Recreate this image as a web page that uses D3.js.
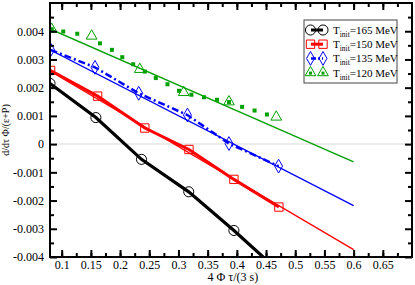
<!DOCTYPE html>
<html>
<head>
<meta charset="utf-8">
<script src="https://cdn.jsdelivr.net/npm/d3@7"></script>
<style>
    body { margin: 0; background: #fff; }
    text { font-family: "Liberation Serif", "DejaVu Serif", serif; }
</style>
</head>
<body>
<div id="chart"></div>
<script>
// tick values
var xTicks = [0.1, 0.15, 0.2, 0.25, 0.3, 0.35, 0.4, 0.45, 0.5, 0.55, 0.6, 0.65];
var yTicks = [-0.004, -0.003, -0.002, -0.001, 0, 0.001, 0.002, 0.003, 0.004];

// legend labels
var seriesTemps = ["165", "150", "135", "120"];

// T_init = 165 MeV (thick line, circles)
var blackX = [0.080, 0.1586, 0.2367, 0.3176, 0.395, 0.445];
var blackY = [0.00215, 0.00094, -0.00054, -0.00169, -0.00306, -0.0040];
var blackMarkX = [0.080, 0.1586, 0.2367, 0.3176, 0.395];
var blackMarkY = [0.00215, 0.00094, -0.00054, -0.00169, -0.00306];

// T_init = 150 MeV (thick line, squares)
var redX = [0.081, 0.1615, 0.2424, 0.318, 0.395, 0.472];
var redY = [0.00261, 0.0017, 0.00057, -0.00019, -0.00125, -0.00223];

// T_init = 135 MeV (dash-dot line, diamonds)
var blueX = [0.081, 0.157, 0.232, 0.3154, 0.3865, 0.4715];
var blueY = [0.00334, 0.00272, 0.0018, 0.00103, 0.00002, -0.00078];

// T_init = 120 MeV (dots, triangles)
var greenDotX = [0.0829, 0.1027, 0.1267, 0.1655, 0.186, 0.2038, 0.2224, 0.2424, 0.2612, 0.2812,
    0.301, 0.3222, 0.3438, 0.366, 0.3865, 0.409, 0.4304, 0.4515];
var greenDotY = [0.00407, 0.00399, 0.00391, 0.00357, 0.00334, 0.00308, 0.00283, 0.00257, 0.00234, 0.00212,
    0.00189, 0.00175, 0.00166, 0.00157, 0.00149, 0.00132, 0.00119, 0.00105];
var greenTriX = [0.0829, 0.1513, 0.2338, 0.309, 0.3865, 0.4675];
var greenTriY = [0.00407, 0.00383, 0.00265, 0.00183, 0.0015, 0.00096];

// straight fits
var fitX = [0.08, 0.6];
var redFitY = [0.00259, -0.00374];
var blueFitY = [0.00334, -0.00218];
var greenFitY = [0.00408, -0.00063];

(function (d3) {
    "use strict";

    var vMargin = { mTop: 3, mRight: 3, mBottom: 28, mLeft: 50 },
        vWidth = 415 - vMargin.mLeft - vMargin.mRight,
        vHeight = 285 - vMargin.mTop - vMargin.mBottom;

    var cGreen = "#00a000";

    var svg = d3.select("#chart")
        .append("svg")
        .attr("width", 415)
        .attr("height", 285)
        .append("g")
        .attr("transform", "translate(" + vMargin.mLeft + "," + vMargin.mTop + ")");

    var vX = d3.scaleLinear().domain([0.08, 0.7]).range([0, vWidth]);
    var vY = d3.scaleLinear().domain([-0.004, 0.005]).range([vHeight, 0]);

    svg.append("clipPath").attr("id", "clip")
        .append("rect").attr("width", vWidth).attr("height", vHeight);

    // zero line
    svg.append("line")
        .attr("x1", 0).attr("x2", vWidth)
        .attr("y1", vY(0)).attr("y2", vY(0))
        .attr("stroke", "#e4e4e4").attr("stroke-width", 1.5);

    function zip(aX, aY) {
        return aX.map(function (v, i) { return [v, aY[i]]; });
    }

    var vLine = d3.line()
        .x(function (d) { return vX(d[0]); })
        .y(function (d) { return vY(d[1]); });

    var plot = svg.append("g").attr("clip-path", "url(#clip)");

    // fit lines
    [[redFitY, "#ff0000"], [blueFitY, "#0000ff"], [greenFitY, cGreen]].forEach(function (f) {
        plot.append("path")
            .attr("d", vLine(zip(fitX, f[0])))
            .attr("fill", "none").attr("stroke", f[1]).attr("stroke-width", 1.3);
    });

    // data lines
    plot.append("path").attr("d", vLine(zip(blackX, blackY)))
        .attr("fill", "none").attr("stroke", "#000").attr("stroke-width", 3.2);
    plot.append("path").attr("d", vLine(zip(redX, redY)))
        .attr("fill", "none").attr("stroke", "#ff0000").attr("stroke-width", 3);
    plot.append("path").attr("d", vLine(zip(blueX, blueY)))
        .attr("fill", "none").attr("stroke", "#0000ff").attr("stroke-width", 2.5)
        .attr("stroke-dasharray", "7,3,2,3");

    // green dots
    plot.selectAll(".gdot").data(zip(greenDotX, greenDotY)).enter()
        .append("rect").attr("class", "gdot")
        .attr("x", function (d) { return vX(d[0]) - 2; })
        .attr("y", function (d) { return vY(d[1]) - 2; })
        .attr("width", 4).attr("height", 4).attr("fill", cGreen);

    // markers
    var sym = {
        circle: d3.symbol().type(d3.symbolCircle).size(80),
        square: d3.symbol().type(d3.symbolSquare).size(70),
        diamond: d3.symbol().type(d3.symbolDiamond).size(55),
        triangle: d3.symbol().type(d3.symbolTriangle).size(50)
    };

    function markers(aData, aSym, aColor) {
        plot.append("g").selectAll("path").data(aData).enter()
            .append("path")
            .attr("transform", function (d) { return "translate(" + vX(d[0]) + "," + vY(d[1]) + ")"; })
            .attr("d", aSym)
            .attr("fill", "none").attr("stroke", aColor).attr("stroke-width", 1);
    }
    markers(zip(blackMarkX, blackMarkY), sym.circle, "#000");
    markers(zip(redX, redY), sym.square, "#ff0000");
    markers(zip(blueX, blueY), sym.diamond, "#0000ff");
    markers(zip(greenTriX, greenTriY), sym.triangle, cGreen);

    // axes, ticks pointing inward
    var vMinorX = d3.range(0.075, 0.7, 0.025).filter(function (v) { return v > 0.08; });
    var vMinorY = d3.range(-0.0035, 0.005, 0.001);

    function styleAxis(g) {
        g.select(".domain").remove();
        g.selectAll("line").attr("stroke", "#000").attr("stroke-width", 2);
        g.selectAll("text").style("font-size", "12px").attr("fill", "#000");
    }

    svg.append("g").attr("transform", "translate(0," + vHeight + ")")
        .call(d3.axisBottom(vX).tickValues(xTicks).tickSize(-7).tickPadding(3)
            .tickFormat(d3.format("")))
        .call(styleAxis);
    svg.append("g").attr("transform", "translate(0," + vHeight + ")")
        .call(d3.axisBottom(vX).tickValues(vMinorX).tickSize(-4).tickFormat(""))
        .call(styleAxis);
    svg.append("g")
        .call(d3.axisTop(vX).tickValues(xTicks).tickSize(-7).tickFormat(""))
        .call(styleAxis);
    svg.append("g")
        .call(d3.axisTop(vX).tickValues(vMinorX).tickSize(-4).tickFormat(""))
        .call(styleAxis);

    svg.append("g")
        .call(d3.axisLeft(vY).tickValues(yTicks).tickSize(-7).tickPadding(6)
            .tickFormat(function (d) { return d === 0 ? "0" : d3.format(".3f")(d).replace("\u2212", "-"); }))
        .call(styleAxis);
    svg.append("g")
        .call(d3.axisLeft(vY).tickValues(vMinorY).tickSize(-4).tickFormat(""))
        .call(styleAxis);
    svg.append("g").attr("transform", "translate(" + vWidth + ",0)")
        .call(d3.axisRight(vY).tickValues(yTicks).tickSize(-7).tickFormat(""))
        .call(styleAxis);
    svg.append("g").attr("transform", "translate(" + vWidth + ",0)")
        .call(d3.axisRight(vY).tickValues(vMinorY).tickSize(-4).tickFormat(""))
        .call(styleAxis);

    // frame
    svg.append("rect")
        .attr("width", vWidth).attr("height", vHeight)
        .attr("fill", "none").attr("stroke", "#000").attr("stroke-width", 2);

    // axis titles
    svg.append("text")
        .attr("x", vX(0.4) - 4).attr("y", vHeight + 24)
        .attr("text-anchor", "middle")
        .style("font-size", "12px")
        .text("4 \u03A6 \u03C4/(3 s)");
    svg.append("text")
        .attr("transform", "translate(" + (-41) + "," + (vY(0.0005)) + ") rotate(-90)")
        .attr("text-anchor", "middle")
        .style("font-size", "10px")
        .text("d/d\u03C4 \u03A6/(\u03B5+P)");

    // legend
    var vLegend = svg.append("g").attr("transform", "translate(254,17)");
    vLegend.append("rect")
        .attr("width", 93).attr("height", 63)
        .attr("fill", "#fff").attr("stroke", "#444").attr("stroke-width", 1);

    var vRows = [
        { color: "#000", sym: sym.circle, dash: null, w: 3 },
        { color: "#ff0000", sym: sym.square, dash: null, w: 3 },
        { color: "#0000ff", sym: sym.diamond, dash: "5,2,2,2", w: 2.5 },
        { color: cGreen, sym: sym.triangle, dash: null, w: 0 }
    ];
    vRows.forEach(function (r, i) {
        var vRowY = 10 + i * 14.2;
        if (r.w > 0) {
            vLegend.append("line")
                .attr("x1", 7).attr("x2", 19).attr("y1", vRowY).attr("y2", vRowY)
                .attr("stroke", r.color).attr("stroke-width", r.w)
                .attr("stroke-dasharray", r.dash);
        }
        [6.5, 19].forEach(function (vx) {
            vLegend.append("path")
                .attr("transform", "translate(" + vx + "," + vRowY + ")")
                .attr("d", r.sym)
                .attr("fill", "none").attr("stroke", r.color).attr("stroke-width", 1);
            if (i === 3) {
                vLegend.append("rect")
                    .attr("x", vx - 1.5).attr("y", vRowY - 1).attr("width", 3).attr("height", 3)
                    .attr("fill", cGreen);
            }
        });
        var t = vLegend.append("text")
            .attr("x", 29).attr("y", vRowY + 4)
            .style("font-size", "11px");
        t.append("tspan").text("T");
        t.append("tspan").attr("dy", 3).style("font-size", "7.5px").text("init");
        t.append("tspan").attr("dy", -3).text("=" + seriesTemps[i] + " MeV");
    });
})(d3);
</script>
</body>
</html>
